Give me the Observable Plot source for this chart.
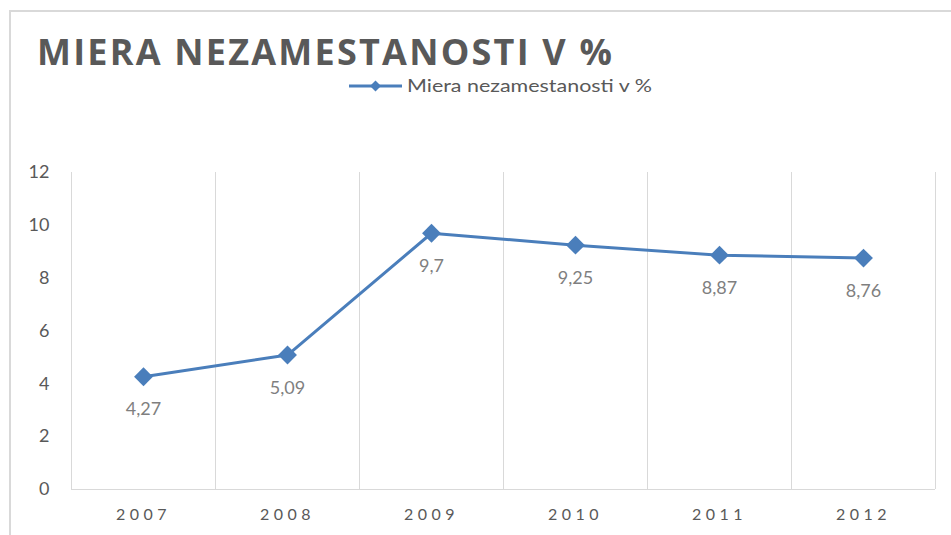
<!DOCTYPE html>
<html>
<head>
<meta charset="utf-8">
<script src="https://cdn.jsdelivr.net/npm/d3@7"></script>
<script src="https://cdn.jsdelivr.net/npm/@observablehq/plot@0.6"></script>
<style>
  html, body { margin: 0; padding: 0; background: #fff; }
  #root { position: relative; width: 951px; height: 535px; overflow: hidden; font-family: Lato, "Open Sans", sans-serif; }
  #frame { position: absolute; left: 9px; top: 10px; width: 1000px; height: 600px; border-left: 2px solid #d9d9d9; border-top: 2px solid #d9d9d9; }
  #title { position: absolute; left: 0; top: 0; }
  #legend { position: absolute; left: 0; top: 70px; }
  #chart { position: absolute; left: 0; top: 140px; }
</style>
</head>
<body>
<div id="root">
  <div id="frame"></div>
  <svg id="title" width="951" height="80">
    <text x="37" y="65" textLength="575" lengthAdjust="spacing" font-family="'Liberation Sans Narrow', 'Open Sans', sans-serif" font-weight="bold" font-size="36" fill="#595959">MIERA NEZAMESTANOSTI V %</text>
  </svg>
  <svg id="legend" width="951" height="34">
    <line x1="349" x2="402" y1="16" y2="16" stroke="#4a7ebb" stroke-width="3"></line>
    <path d="M375.5,10.5L381,16L375.5,21.5L370,16Z" fill="#4a7ebb"></path>
    <text x="407" y="22" textLength="245" lengthAdjust="spacingAndGlyphs" font-family="Lato, sans-serif" font-size="18" fill="#595959">Miera nezamestanosti v %</text>
  </svg>
  <div id="chart"></div>
</div>
<script>
const years = [2007, 2008, 2009, 2010, 2011, 2012];
const values = [4.27, 5.09, 9.7, 9.25, 8.87, 8.76];
const valueLabels = ["4,27", "5,09", "9,7", "9,25", "8,87", "8,76"];
const yTicks = [0, 2, 4, 6, 8, 10, 12];

const data = years.map((y, i) => ({year: y, value: values[i], label: valueLabels[i]}));
const bounds = years.map(y => y - 0.5).concat([years[years.length - 1] + 0.5]);

const plot = Plot.plot({
  width: 951,
  height: 395,
  marginTop: 32,
  marginBottom: 46,
  marginLeft: 71,
  marginRight: 16,
  style: {fontFamily: "Lato, sans-serif", color: "#595959", background: "transparent", overflow: "visible"},
  x: {domain: [years[0] - 0.5, years[years.length - 1] + 0.5]},
  y: {domain: [0, 12]},
  marks: [
    Plot.ruleX(bounds, {stroke: "#d9d9d9", strokeWidth: 1}),
    Plot.ruleY([0], {stroke: "#d9d9d9", strokeWidth: 1}),
    Plot.axisY({ticks: yTicks, tickSize: 0, tickPadding: 22, label: null, fontSize: 18, fill: "#595959"}),
    Plot.axisX({ticks: years, tickFormat: d => String(d), tickSize: 0, tickPadding: 19, label: null, fontSize: 16, fill: "#595959"}),
    Plot.line(data, {x: "year", y: "value", stroke: "#4a7ebb", strokeWidth: 3}),
    Plot.dot(data, {x: "year", y: "value", symbol: "diamond2", r: 8.5, fill: "#4a7ebb", stroke: "none"}),
    Plot.text(data, {x: "year", y: "value", text: "label", dy: 33, fontSize: 18, fill: "#7f7f7f"})
  ]
});
document.getElementById("chart").appendChild(plot);
d3.select(plot).selectAll("[aria-label='x-axis tick label'] text").style("letter-spacing", "4.5px");
</script>
</body>
</html>
